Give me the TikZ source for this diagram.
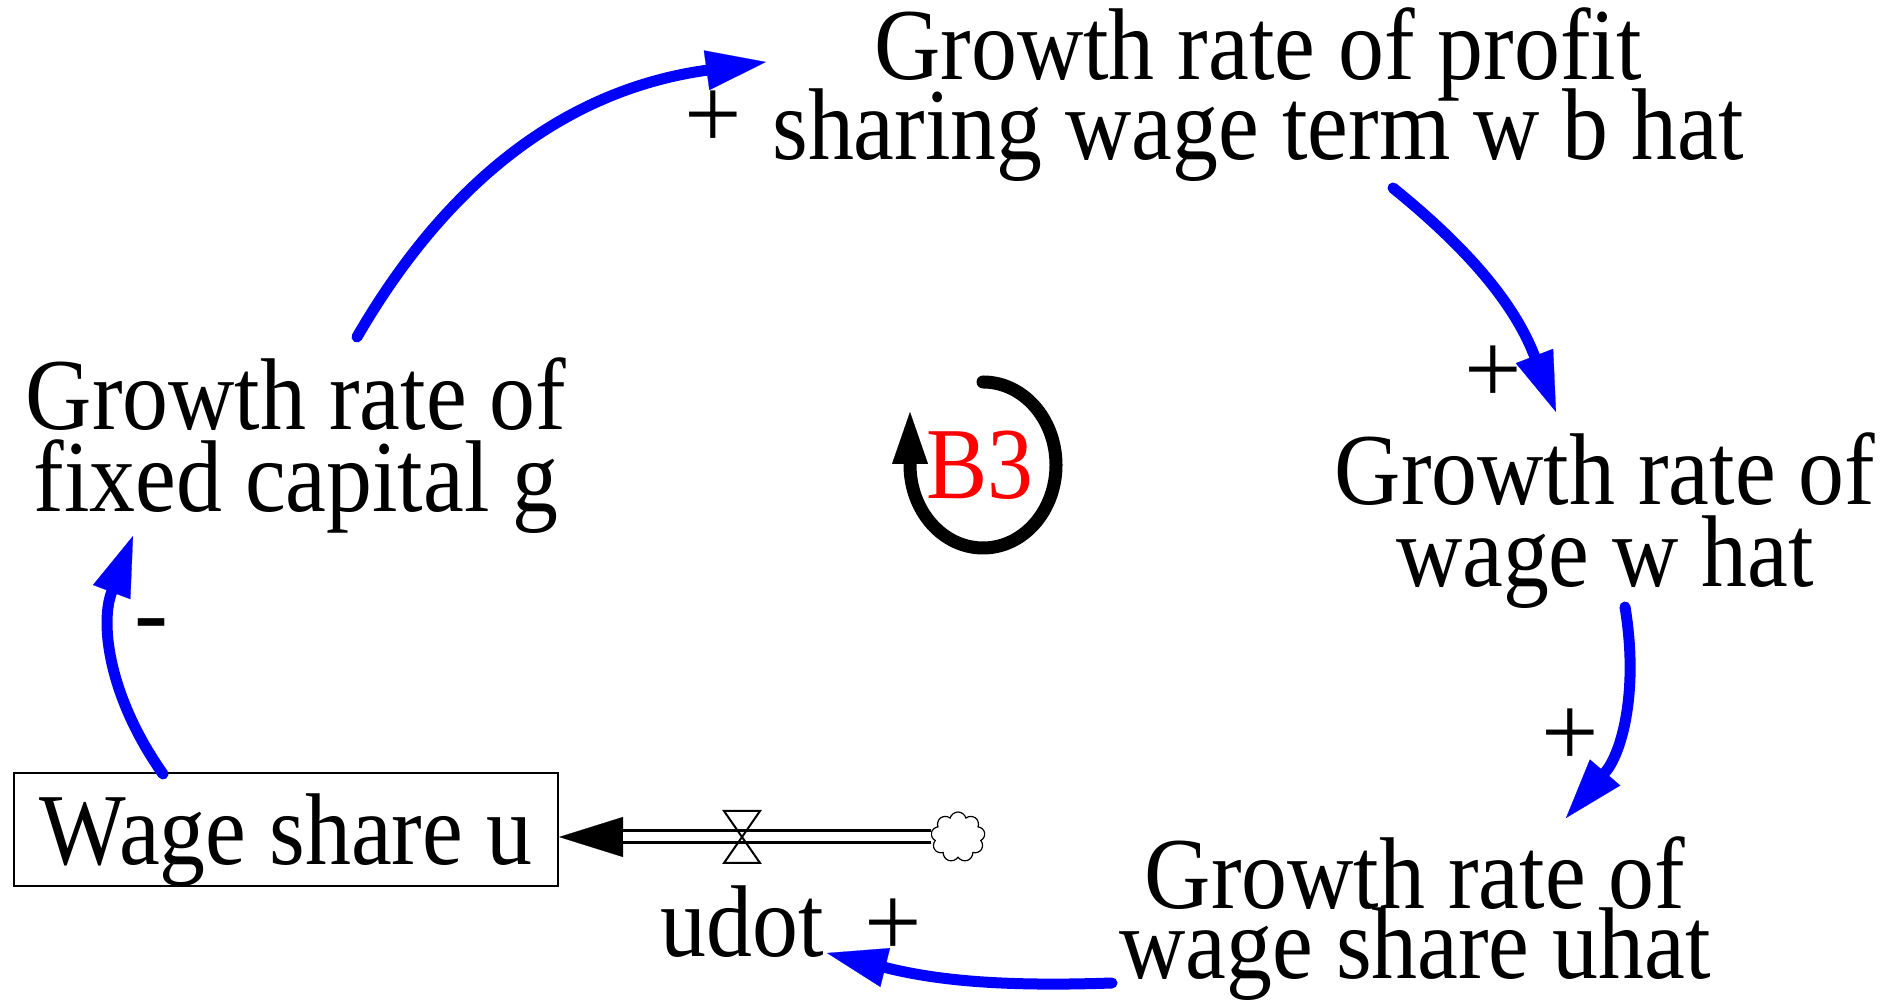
\documentclass[tikz,border=0pt]{standalone}
\usepackage{fontspec}
\setmainfont{Liberation Serif}[FakeStretch=0.9]
\newfontfamily\signfont{Liberation Serif}
\usetikzlibrary{arrows.meta,shapes.symbols}
\definecolor{linkblue}{RGB}{0,0,255}
\definecolor{loopred}{RGB}{255,0,0}
\newcommand\varfont[1]{\fontsize{51}{#1}\selectfont\lineskiplimit=-60pt\relax}

\begin{document}
\begin{tikzpicture}[x=0.5pt, y=0.5pt,
  var/.style={align=center, inner sep=0pt, anchor=base, font=\varfont{41}},
  stock/.style={draw, line width=1pt, inner sep=0pt, minimum width=272pt, minimum height=56.5pt, text depth=0pt, font=\varfont{41}},
  sign/.style={inner sep=0pt, font=\signfont\fontsize{51}{51}\selectfont},
  link/.style={draw=linkblue, line width=5.5pt, line cap=round, ->},
  pipe/.style={line width=7.5pt, -{Triangle[length=32pt,width=20pt,line width=0.1pt]}},
  pipein/.style={white, line width=4.5pt, shorten >=32pt},
  valveline/.style={line width=1pt, line join=miter},
  looparrow/.style={line width=6.5pt, line cap=round, -{Triangle[length=26pt,width=18pt,line width=0.1pt]}},
  >={Triangle[length=30pt,width=20pt,line width=0.1pt]}]
\useasboundingbox (0,0) rectangle (1899,1000);

\node[var, font=\varfont{40}] (profit) at (1258,840) {Growth rate of profit\\sharing wage term w b hat};
\node[var] (what) at (1605,413) {Growth rate of\\wage w hat};
\node[var, font=\varfont{35}] (uhat) at (1415,21) {Growth rate of\\wage share uhat};
\node[var] (g) at (296,488) {Growth rate of\\fixed capital g};
\node[stock] (u) at (286,170.5) {Wage share u};

\node[cloud, draw, cloud puffs=9, line width=0.6pt, minimum width=27pt, minimum height=25pt, inner sep=0pt] (src) at (958,163) {};
\coordinate (valve) at (742,163);
\node[var] (udot) at (742,43) {udot};

\draw[pipe] (src.west) -- (src.west -| u.east);
\draw[pipein] (src.west) -- (src.west -| u.east);
\draw[valveline] ([shift={(-18,26)}]valve) -- ([shift={(18,26)}]valve) -- (valve) -- cycle;
\draw[valveline] ([shift={(-18,-26)}]valve) -- ([shift={(18,-26)}]valve) -- (valve) -- cycle;

\node[inner sep=0pt, text=loopred, font=\varfont{41}] (b3) at (980,535) {B3};
\draw[looparrow] ([shift={(3,83)}]b3.center) arc[start angle=90, end angle=-180, x radius=73, y radius=83] -- ++(0,53);

\node[sign] (sgA) at (713,880) {+};
\node[sign] (sgB) at (1493,625) {+};
\node[sign] (sgC) at (1570,262) {+};
\node[sign] (sgD) at (893,72) {+};
\node[sign, anchor=base] (sgE) at (151,353) {-};

\draw[link] ([shift={(61,175)}]g.base) to[bend left=26] ([shift={(-492,98)}]profit.base);
\draw[link] ([shift={(135,-28)}]profit.base) to[bend left=15] ([shift={(-49,175)}]what.base);
\draw[link] ([shift={(20,-20)}]what.base) to[bend left=25] ([shift={(151,161)}]uhat.base);
\draw[link] ([shift={(-303,-4)}]uhat.base) to[bend left=8] ([shift={(85,4)}]udot.base);
\draw[link] ([shift={(-123,-2)}]u.north) to[bend left=28] ([shift={(-163,-24)}]g.base);
\end{tikzpicture}
\end{document}
